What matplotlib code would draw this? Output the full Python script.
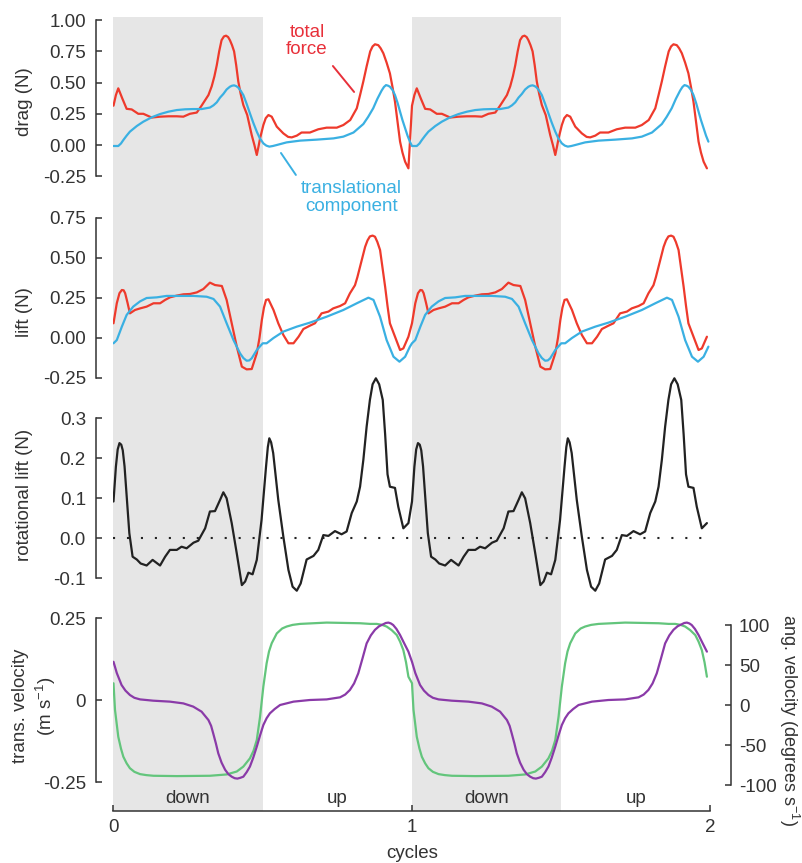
import numpy as np
import matplotlib
matplotlib.use("Agg")
import matplotlib.pyplot as plt

plt.rcParams['font.family'] = ['Liberation Sans', 'DejaVu Sans']
plt.rcParams['mathtext.fontset'] = 'custom'
plt.rcParams['mathtext.rm'] = 'Liberation Sans'
plt.rcParams['mathtext.default'] = 'regular'
plt.rcParams['axes.unicode_minus'] = False
plt.rcParams['lines.solid_joinstyle'] = 'round'
plt.rcParams['lines.solid_capstyle'] = 'round'

# colours
red = '#ee3a2c'
blue = '#3ab0e2'
black = '#222222'
green = '#63c57c'
purple = '#8a3aa8'
shade = '#e6e6e6'
axcol = '#333333'

# ---------------- data (one wingbeat cycle, shown twice) ----------------
drag_tot_phase = [0.0, 0.008, 0.016, 0.03, 0.044, 0.061, 0.083, 0.10, 0.128, 0.156,
                  0.184, 0.212, 0.234, 0.256, 0.279, 0.295, 0.318, 0.329, 0.338, 0.346,
                  0.354, 0.362, 0.37, 0.377, 0.384, 0.39, 0.397, 0.404, 0.411, 0.418,
                  0.426, 0.435, 0.448, 0.463, 0.472, 0.480, 0.486, 0.491, 0.502, 0.51,
                  0.519, 0.530, 0.547, 0.569, 0.585, 0.597, 0.614, 0.630, 0.658, 0.686,
                  0.714, 0.748, 0.770, 0.793, 0.815, 0.826, 0.837, 0.848, 0.860, 0.868,
                  0.876, 0.887, 0.895, 0.904, 0.915, 0.926, 0.935, 0.943, 0.952, 0.960,
                  0.968, 0.977, 0.988]
drag_tot = [0.315, 0.40, 0.454, 0.37, 0.29, 0.285, 0.25, 0.25, 0.22, 0.227,
            0.23, 0.23, 0.227, 0.25, 0.26, 0.315, 0.40, 0.47, 0.55, 0.64,
            0.75, 0.84, 0.87, 0.876, 0.865, 0.84, 0.80, 0.75, 0.64, 0.51,
            0.41, 0.32, 0.24, 0.08, 0.0, -0.08, -0.01, 0.053, 0.16, 0.215,
            0.24, 0.227, 0.147, 0.093, 0.065, 0.061, 0.075, 0.10, 0.10, 0.126,
            0.139, 0.139, 0.16, 0.20, 0.294, 0.40, 0.51, 0.63, 0.75, 0.79,
            0.807, 0.80, 0.775, 0.735, 0.66, 0.574, 0.46, 0.347, 0.18, 0.027,
            -0.06, -0.134, -0.187]

drag_tr_phase = [0.0, 0.016, 0.025, 0.033, 0.044, 0.055, 0.078, 0.10, 0.128, 0.156,
                 0.184, 0.212, 0.24, 0.267, 0.295, 0.323, 0.335, 0.346, 0.357, 0.368,
                 0.379, 0.39, 0.397, 0.404, 0.411, 0.418, 0.426, 0.435, 0.446, 0.457,
                 0.468, 0.48, 0.49, 0.502, 0.512, 0.522, 0.534, 0.547, 0.58, 0.625,
                 0.681, 0.737, 0.77, 0.804, 0.837, 0.853, 0.87, 0.884, 0.898, 0.906,
                 0.913, 0.92, 0.926, 0.935, 0.943, 0.952, 0.96, 0.968, 0.977, 0.985,
                 0.993]
drag_tr = [-0.008, -0.008, 0.012, 0.04, 0.075, 0.107, 0.152, 0.187, 0.222, 0.248,
           0.267, 0.28, 0.286, 0.288, 0.288, 0.30, 0.318, 0.342, 0.38, 0.409,
           0.445, 0.467, 0.475, 0.478, 0.472, 0.46, 0.435, 0.40, 0.33, 0.254,
           0.18, 0.107, 0.055, 0.013, -0.005, -0.013, -0.008, 0.0, 0.021, 0.035,
           0.043, 0.053, 0.067, 0.10, 0.168, 0.225, 0.294, 0.37, 0.435, 0.465,
           0.48, 0.475, 0.467, 0.44, 0.40, 0.335, 0.267, 0.20, 0.134, 0.075,
           0.027]

lift_tot_phase = [0.0, 0.006, 0.011, 0.02, 0.028, 0.034, 0.039, 0.047, 0.055, 0.072,
                  0.089, 0.111, 0.134, 0.156, 0.173, 0.189, 0.212, 0.234, 0.256, 0.279,
                  0.301, 0.323, 0.340, 0.363, 0.379, 0.396, 0.413, 0.430, 0.446, 0.463,
                  0.480, 0.489, 0.497, 0.504, 0.511, 0.519, 0.527, 0.536, 0.552, 0.569,
                  0.586, 0.603, 0.620, 0.636, 0.658, 0.675, 0.697, 0.720, 0.736, 0.759,
                  0.776, 0.792, 0.809, 0.817, 0.826, 0.835, 0.843, 0.851, 0.859, 0.868,
                  0.876, 0.884, 0.893, 0.901, 0.910, 0.918, 0.926, 0.943, 0.960, 0.971,
                  0.988]
lift_tot = [0.092, 0.16, 0.217, 0.28, 0.30, 0.298, 0.28, 0.22, 0.154, 0.175,
            0.185, 0.196, 0.217, 0.217, 0.238, 0.254, 0.265, 0.273, 0.275, 0.285,
            0.306, 0.346, 0.331, 0.325, 0.238, 0.092, -0.054, -0.179, -0.196, -0.194,
            -0.096, 0.0, 0.113, 0.19, 0.238, 0.242, 0.21, 0.175, 0.092, 0.019,
            -0.033, -0.033, 0.008, 0.056, 0.077, 0.092, 0.154, 0.165, 0.185, 0.20,
            0.217, 0.279, 0.33, 0.38, 0.446, 0.51, 0.57, 0.61, 0.635, 0.64,
            0.633, 0.60, 0.55, 0.44, 0.32, 0.20, 0.092, 0.008, -0.075, -0.065,
            0.008]

lift_tr_phase = [0.0, 0.011, 0.028, 0.044, 0.066, 0.089, 0.111, 0.145, 0.178, 0.212,
                 0.268, 0.312, 0.335, 0.357, 0.379, 0.402, 0.424, 0.435, 0.446, 0.455,
                 0.463, 0.480, 0.500, 0.513, 0.536, 0.569, 0.614, 0.658, 0.714, 0.770,
                 0.815, 0.854, 0.871, 0.893, 0.915, 0.938, 0.958, 0.977, 0.993]
lift_tr = [-0.033, -0.013, 0.071, 0.144, 0.196, 0.229, 0.25, 0.254, 0.263, 0.263,
           0.263, 0.258, 0.244, 0.196, 0.092, -0.013, -0.096, -0.125, -0.142, -0.140,
           -0.127, -0.075, -0.033, -0.033, 0.0, 0.040, 0.071, 0.096, 0.133, 0.175,
           0.217, 0.252, 0.238, 0.133, -0.013, -0.117, -0.148, -0.117, -0.054]

rot_phase = [0.0, 0.008, 0.014, 0.020, 0.026, 0.031, 0.037, 0.042, 0.053, 0.064,
             0.078, 0.091, 0.111, 0.131, 0.156, 0.173, 0.189, 0.212, 0.228, 0.245,
             0.268, 0.284, 0.307, 0.323, 0.340, 0.357, 0.368, 0.379, 0.396, 0.413,
             0.430, 0.441, 0.452, 0.466, 0.480, 0.496, 0.511, 0.517, 0.522, 0.528,
             0.535, 0.552, 0.569, 0.586, 0.600, 0.614, 0.627, 0.647, 0.670, 0.686,
             0.703, 0.720, 0.742, 0.764, 0.781, 0.798, 0.815, 0.826, 0.837, 0.848,
             0.859, 0.868, 0.879, 0.890, 0.902, 0.910, 0.918, 0.926, 0.943, 0.954,
             0.971, 0.988]
rot_lift = [0.092, 0.179, 0.222, 0.238, 0.234, 0.22, 0.18, 0.129, 0.013, -0.046,
            -0.053, -0.063, -0.068, -0.054, -0.068, -0.046, -0.029, -0.029, -0.021, -0.025,
            -0.011, -0.006, 0.025, 0.067, 0.068, 0.096, 0.115, 0.10, 0.038, -0.038,
            -0.117, -0.108, -0.086, -0.09, -0.054, 0.046, 0.179, 0.228, 0.25, 0.24,
            0.213, 0.096, 0.004, -0.079, -0.121, -0.131, -0.113, -0.053, -0.044, -0.029,
            0.008, 0.006, 0.018, 0.010, 0.017, 0.063, 0.092, 0.129, 0.196, 0.279,
            0.346, 0.385, 0.40, 0.385, 0.346, 0.26, 0.16, 0.129, 0.126, 0.079,
            0.025, 0.038]

trans_phase = [0.0, 0.005, 0.016, 0.025, 0.033, 0.044, 0.055, 0.07, 0.089, 0.11,
               0.134, 0.212, 0.323, 0.379, 0.413, 0.435, 0.457, 0.469, 0.480, 0.491,
               0.502, 0.513, 0.521, 0.530, 0.547, 0.565, 0.580, 0.60, 0.625, 0.714,
               0.826, 0.86, 0.882, 0.90, 0.915, 0.932, 0.949, 0.960, 0.971, 0.980,
               0.988]
trans_vel = [0.051, -0.030, -0.112, -0.148, -0.173, -0.193, -0.208, -0.219, -0.226, -0.229,
             -0.231, -0.232, -0.231, -0.227, -0.218, -0.203, -0.178, -0.155, -0.122, -0.051,
             0.041, 0.112, 0.148, 0.173, 0.203, 0.218, 0.224, 0.229, 0.232, 0.236,
             0.234, 0.232, 0.232, 0.229, 0.224, 0.213, 0.198, 0.178, 0.152, 0.115,
             0.071]

ang_phase = [0.0, 0.011, 0.027, 0.04, 0.055, 0.07, 0.089, 0.133, 0.189, 0.234,
             0.267, 0.295, 0.318, 0.327, 0.334, 0.343, 0.351, 0.362, 0.374, 0.385,
             0.396, 0.406, 0.415, 0.425, 0.435, 0.446, 0.457, 0.468, 0.480, 0.491,
             0.502, 0.513, 0.524, 0.54, 0.558, 0.603, 0.658, 0.714, 0.759, 0.776,
             0.792, 0.806, 0.820, 0.834, 0.848, 0.862, 0.876, 0.890, 0.904, 0.912,
             0.921, 0.929, 0.937, 0.948, 0.960, 0.974, 0.988]
ang_vel = [54, 40, 25, 18, 12.5, 9, 7, 5.4, 4.2, 2,
           -2, -8.3, -18.8, -26, -35.4, -48, -60.4, -72, -81, -86.5,
           -89.6, -91.5, -92, -91, -89.6, -84, -77, -66, -52, -38,
           -25, -16.5, -10.4, -5, 0, 4.2, 6.25, 7, 9.6, 13,
           18.8, 27, 39.6, 58, 77, 87, 94, 98.5, 101, 102.5,
           103, 102, 100, 95, 87.5, 77, 66.7]

n_cycles = 2
stroke_names = ['down', 'up']

drag_ticks = [-0.25, 0.0, 0.25, 0.5, 0.75, 1.0]
lift_ticks = [-0.25, 0.0, 0.25, 0.5, 0.75]
rot_ticks = [-0.1, 0.0, 0.1, 0.2, 0.3]
trans_ticks = [-0.25, 0, 0.25]
ang_ticks = [-100, -50, 0, 50, 100]


def two_cycles(phase, vals):
    x = np.concatenate([np.array(phase) + c for c in range(n_cycles)])
    y = np.concatenate([np.array(vals) for c in range(n_cycles)])
    return x, y


# ---------------- layout (pixel based) ----------------
W, H = 803, 863
DPI = 100
fig = plt.figure(figsize=(W / DPI, H / DPI), dpi=DPI)

X0, X1 = 113.5, 710.5


def box(top, bottom):
    return [X0 / W, 1 - bottom / H, (X1 - X0) / W, (bottom - top) / H]


def ylim_for(top, bottom, zero_px, px_per_unit):
    return ((zero_px - bottom) / px_per_unit, (zero_px - top) / px_per_unit)


def px2pt(p):
    return p * 72.0 / DPI


FS = 13.5
LW = 1.6

# shaded downstrokes behind everything
bg = fig.add_axes(box(17.5, 810.7))
bg.set_xlim(0, n_cycles)
bg.set_ylim(0, 1)
for c in range(n_cycles):
    bg.axvspan(c, c + 0.5, color=shade, lw=0)
bg.axis('off')


def style_left(ax, ticks, labels):
    for s in ['top', 'right', 'bottom']:
        ax.spines[s].set_visible(False)
    ax.spines['left'].set_position(('outward', px2pt(X0 - 96)))
    ax.spines['left'].set_bounds(ticks[0], ticks[-1])
    ax.spines['left'].set_color(axcol)
    ax.spines['left'].set_linewidth(1.1)
    ax.set_yticks(ticks)
    ax.set_yticklabels(labels)
    ax.tick_params(axis='y', direction='in', length=px2pt(6), width=1.1,
                   color=axcol, labelcolor=axcol, labelsize=FS, pad=px2pt(10))
    ax.set_xlim(0, n_cycles)
    ax.set_xticks([])
    ax.patch.set_visible(False)


# ---- drag ----
top, bot = 10, 200
ax1 = fig.add_axes(box(top, bot))
ax1.set_ylim(*ylim_for(top, bot, 145, 124.8))
x, y = two_cycles(drag_tot_phase, drag_tot)
ax1.plot(x, y, color=red, lw=LW)
x, y = two_cycles(drag_tr_phase, drag_tr)
ax1.plot(x, y, color=blue, lw=LW)
style_left(ax1, drag_ticks, ['%.2f' % t for t in drag_ticks])
ax1.text(0.648, 0.833, 'total\nforce', color='#e8303a', fontsize=FS, ha='center',
         va='center', linespacing=1.0)
ax1.plot([0.735, 0.806], [0.633, 0.425], color='#e8303a', lw=1.4)
ax1.text(0.796, -0.42, 'translational\ncomponent', color=blue, fontsize=FS, ha='center',
         va='center', linespacing=1.05, clip_on=False)
ax1.plot([0.561, 0.611], [-0.064, -0.240], color=blue, lw=1.4)

# ---- lift ----
top, bot = 200, 390
ax2 = fig.add_axes(box(top, bot))
ax2.set_ylim(*ylim_for(top, bot, 338, 160))
x, y = two_cycles(lift_tot_phase, lift_tot)
ax2.plot(x, y, color=red, lw=LW)
x, y = two_cycles(lift_tr_phase, lift_tr)
ax2.plot(x, y, color=blue, lw=LW)
style_left(ax2, lift_ticks, ['%.2f' % t for t in lift_ticks])

# ---- rotational lift ----
top, bot = 370, 600
ax3 = fig.add_axes(box(top, bot))
ax3.set_ylim(*ylim_for(top, bot, 538.3, 400))
ax3.axhline(0, color=black, lw=1.5, linestyle=(0, (1, 5.7)))
x, y = two_cycles(rot_phase, rot_lift)
ax3.plot(x, y, color=black, lw=LW)
style_left(ax3, rot_ticks, ['%.1f' % t for t in rot_ticks])

# ---- velocities ----
top, bot = 600, 810.7
ax4 = fig.add_axes(box(top, bot))
ax4.set_ylim(*ylim_for(top, bot, 700, 328))
x, y = two_cycles(trans_phase, trans_vel)
ax4.plot(x, y, color=green, lw=LW)
style_left(ax4, trans_ticks, ['-0.25', '0', '0.25'])
ax4.spines['bottom'].set_visible(True)
ax4.spines['bottom'].set_color(axcol)
ax4.spines['bottom'].set_linewidth(1.1)
ax4.spines['bottom'].set_bounds(0, n_cycles)
ax4.set_xticks(range(n_cycles + 1))
ax4.set_xticklabels([str(i) for i in range(n_cycles + 1)])
ax4.tick_params(axis='x', direction='in', length=px2pt(6), width=1.1,
                color=axcol, labelcolor=axcol, labelsize=FS, pad=px2pt(8))
for c in range(n_cycles):
    for k, name in enumerate(stroke_names):
        ax4.text(c + 0.25 + 0.5 * k, -0.299, name, color=axcol, fontsize=FS,
                 ha='center', va='center')

ax4r = ax4.twinx()
ax4r.set_ylim(*ylim_for(top, bot, 705, 0.8))
x, y = two_cycles(ang_phase, ang_vel)
ax4r.plot(x, y, color=purple, lw=LW)
for s in ['top', 'left', 'bottom']:
    ax4r.spines[s].set_visible(False)
ax4r.spines['right'].set_position(('outward', px2pt(731 - X1)))
ax4r.spines['right'].set_bounds(-100, 100)
ax4r.spines['right'].set_color(axcol)
ax4r.spines['right'].set_linewidth(1.1)
ax4r.set_yticks(ang_ticks)
ax4r.set_yticklabels([str(t) for t in ang_ticks])
ax4r.tick_params(axis='y', direction='in', length=px2pt(6), width=1.1,
                 color=axcol, labelcolor=axcol, labelsize=FS, pad=px2pt(8))
ax4r.patch.set_visible(False)

# ---- axis titles ----
def ftext(px, py, s, **kw):
    kw.setdefault('fontsize', FS)
    fig.text(px / W, 1 - py / H, s, color=axcol, ha='center', va='center', **kw)


ftext(25, 102, 'drag (N)', rotation=90)
ftext(25, 312, 'lift (N)', rotation=90)
ftext(25, 495, 'rotational lift (N)', rotation=90)
ftext(35, 706, 'trans. velocity\n(m s$^{-1}$)', rotation=90, linespacing=1.3)
ftext(789, 720, 'ang. velocity (degrees s$^{-1}$)', rotation=270, fontsize=13)
ftext(412, 853, 'cycles')

fig.savefig('out.png', dpi=DPI)
